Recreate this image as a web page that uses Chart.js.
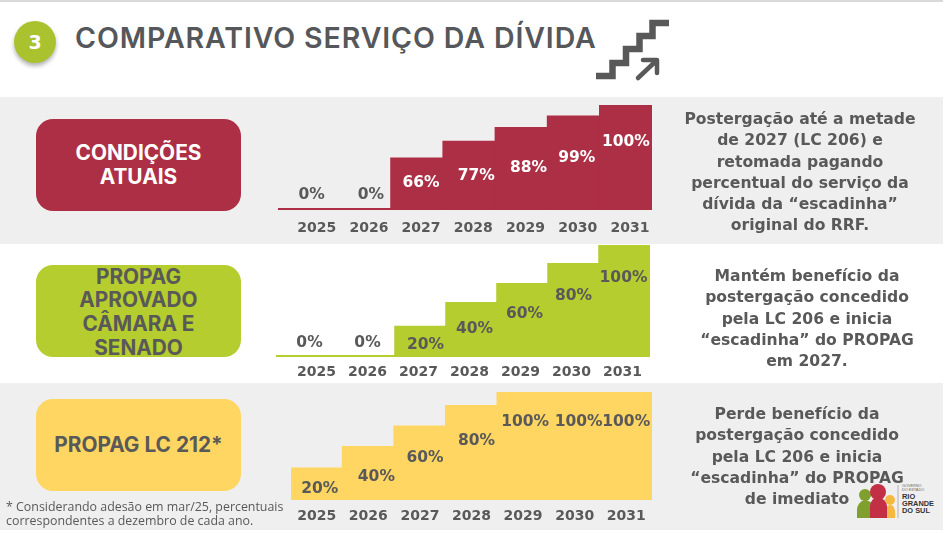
<!DOCTYPE html>
<html lang="pt-BR">
<head>
    <meta charset="UTF-8">
    <title>Comparativo Serviço da Dívida</title>
    <script src="https://cdn.jsdelivr.net/npm/chart.js"></script>
    <style>
        html, body { margin: 0; padding: 0; background: #fff; }
        #slide { position: relative; width: 945px; height: 533px; overflow: hidden; background: #fff;
                 font-family: Inter, "Open Sans", sans-serif; color: #595959; }
        .band { position: absolute; left: 0; width: 943px; background: #efefef; }
        .box { position: absolute; left: 36px; width: 205px; height: 92px; border-radius: 17px;
               display: flex; align-items: center; justify-content: center; text-align: center;
               font-weight: 700; font-size: 20.8px; line-height: 23.7px; white-space: nowrap; }
        .note { position: absolute; text-align: center; font-family: "DejaVu Sans", sans-serif;
                font-weight: 700; font-size: 15.6px; line-height: 21.3px; white-space: nowrap; }
        canvas { position: absolute; left: 270px; }
        #circle { position: absolute; left: 14px; top: 21px; width: 42px; height: 42px; border-radius: 50%;
                  background: #abc22f; color: #fff; font-family: "DejaVu Sans", sans-serif; font-weight: 700;
                  font-size: 19px; line-height: 42px; text-align: center; box-shadow: 0 3px 4px rgba(0,0,0,.3); }
        #title { position: absolute; left: 75px; top: 21px; font-size: 28.5px; letter-spacing: 0.9px; font-weight: 600;
                 line-height: 34px; white-space: nowrap; color: #55575a; }
        #foot { position: absolute; left: 6px; top: 500px; font-family: "Open Sans", sans-serif; font-size: 12.4px; line-height: 14px; white-space: nowrap; }
        svg { position: absolute; left: 0; top: 0; }
    </style>
</head>
<body>
<div id="slide">
    <div class="band" style="top:0;height:2px;background:#d9d9d9"></div>
    <div class="band" style="top:97px;height:147px"></div>
    <div class="band" style="top:383px;height:147px"></div>

    <div id="circle">3</div>
    <div id="title">COMPARATIVO SERVIÇO DA DÍVIDA</div>

    <svg width="945" height="533">
        <path d="M596 76 H612.5 V63 H626 V49 H639.5 V36 H652.5 V23 H669" fill="none" stroke="#595959" stroke-width="6.5"/>
        <path d="M638 78 L656 61 M643 60 H657 V73" fill="none" stroke="#595959" stroke-width="4.5" stroke-linecap="round" stroke-linejoin="round"/>
        <!-- logo -->
        <circle cx="865" cy="495" r="6" fill="#7f9f2f"/>
        <path d="M857 518 V509 Q858 502 865 500 Q873 501 875 509 V518 Z" fill="#7f9f2f"/>
        <circle cx="890" cy="500" r="5" fill="#f5b942"/>
        <path d="M884 518 V510 Q889 503 893 506 Q896 510 895 518 Z" fill="#f5b942"/>
        <circle cx="878" cy="492" r="8" fill="#c32f45"/>
        <path d="M870 518 V506 Q871 498 878 497 Q886 499 887 506 V518 Z" fill="#c32f45"/>
        <line x1="898" y1="485" x2="898" y2="518" stroke="#999" stroke-width="0.7"/>
        <text x="902" y="487" font-size="3.8" fill="#666" font-family="Liberation Sans">GOVERNO</text>
        <text x="902" y="491" font-size="3.8" fill="#666" font-family="Liberation Sans">DO ESTADO</text>
        <text x="902" y="498.5" font-size="7.4" font-weight="700" fill="#333" font-family="Liberation Sans">RIO</text>
        <text x="902" y="505.5" font-size="7.4" font-weight="700" fill="#333" font-family="Liberation Sans">GRANDE</text>
        <text x="902" y="512.5" font-size="7.4" font-weight="700" fill="#333" font-family="Liberation Sans">DO SUL</text>
    </svg>

    <div class="box" style="top:119px;background:#ad2f45;color:#fff"><div>CONDIÇÕES<br>ATUAIS</div></div>
    <div class="box" style="top:265px;background:#b5cd2e"><div style="margin-top:2px">PROPAG<br>APROVADO<br>CÂMARA E<br>SENADO</div></div>
    <div class="box" style="top:399px;background:#ffd662"><div>PROPAG LC 212*</div></div>

    <canvas id="chartAtuais" width="400" height="140" style="top:100px"></canvas>
    <canvas id="chartAprovado" width="400" height="150" style="top:240px"></canvas>
    <canvas id="chartLc212" width="400" height="145" style="top:385px"></canvas>

    <div class="note" style="left:660px;width:280px;top:109px">Postergação até a metade<br>de 2027 (LC 206) e<br>retomada pagando<br>percentual do serviço da<br>dívida da “escadinha”<br>original do RRF.</div>
    <div class="note" style="left:667px;width:280px;top:266px">Mantém benefício da<br>postergação concedido<br>pela LC 206 e inicia<br>“escadinha” do PROPAG<br>em 2027.</div>
    <div class="note" style="left:657px;width:280px;top:404px">Perde benefício da<br>postergação concedido<br>pela LC 206 e inicia<br>“escadinha” do PROPAG<br>de imediato</div>

    <div id="foot">* Considerando adesão em mar/25, percentuais<br>correspondentes a dezembro de cada ano.</div>
</div>

<script>
    const years = ['2025', '2026', '2027', '2028', '2029', '2030', '2031'];

    // the printed percentages are not to scale in the slide, so the height of
    // each step (top step = 100) is kept apart from its label
    const stepsAtuais = [0, 0, 50, 66, 79, 90, 100];
    const labelsAtuais = ['0%', '0%', '66%', '77%', '88%', '99%', '100%'];

    const stepsAprovado = [0, 0, 28, 49, 66, 84, 100];
    const labelsAprovado = ['0%', '0%', '20%', '40%', '60%', '80%', '100%'];

    const stepsLc212 = [30, 50, 69, 88, 100, 100, 100];
    const labelsLc212 = ['20%', '40%', '60%', '80%', '100%', '100%', '100%'];

    const GREY = '#595959';
    const FONT = '"DejaVu Sans", sans-serif';

    // percent labels sit by hand in the slide, no rule to them
    const stepLabels = {
        id: 'stepLabels',
        afterDatasetsDraw(chart, args, opts) {
            const ctx = chart.ctx;
            const bars = chart.getDatasetMeta(0).data;
            ctx.save();
            ctx.font = 'bold 15.5px ' + FONT;
            ctx.textAlign = 'center';
            ctx.textBaseline = 'middle';
            bars.forEach((bar, i) => {
                ctx.fillStyle = opts.colors[i];
                ctx.fillText(opts.texts[i], bar.x + opts.dx[i], bar.y + opts.dy[i]);
            });
            ctx.restore();
        }
    };

    // thin line under the two 0% years, runs a bit past the first bar
    const zeroLine = {
        id: 'zeroLine',
        beforeDatasetsDraw(chart, args, opts) {
            if (!opts.color) return;
            const y = chart.scales.y.getPixelForValue(0);
            const ctx = chart.ctx;
            ctx.save();
            ctx.strokeStyle = opts.color;
            ctx.lineWidth = 2;
            ctx.beginPath();
            ctx.moveTo(opts.from, y - 1);
            ctx.lineTo(chart.chartArea.left + 120, y - 1);
            ctx.stroke();
            ctx.restore();
        }
    };

    function stairChart(id, steps, texts, cfg) {
        return new Chart(document.getElementById(id), {
            type: 'bar',
            data: {
                labels: years,
                datasets: [{ data: steps, backgroundColor: cfg.color, borderWidth: 0,
                             barPercentage: 1.03, categoryPercentage: 1 }]
            },
            plugins: [zeroLine, stepLabels],
            options: {
                responsive: false,
                animation: false,
                layout: { padding: cfg.padding },
                plugins: {
                    legend: { display: false },
                    tooltip: { enabled: false },
                    zeroLine: { color: cfg.line, from: cfg.lineFrom },
                    stepLabels: { texts: texts, colors: cfg.textColors, dx: cfg.dx, dy: cfg.dy }
                },
                scales: {
                    y: { display: false, min: 0, max: 100 },
                    x: {
                        grid: { display: false, drawTicks: false },
                        border: { display: false },
                        afterFit: s => { s.height = cfg.axisHeight; },
                        ticks: {
                            color: GREY,
                            font: { family: FONT, weight: 'bold', size: 14 },
                            padding: cfg.tickPad,
                            labelOffset: cfg.labelOffset,
                            maxRotation: 0,
                            autoSkip: false
                        }
                    }
                }
            }
        });
    }

    stairChart('chartAtuais', stepsAtuais, labelsAtuais, {
        color: '#ad2f45', line: '#ad2f45', lineFrom: 8,
        padding: { left: 16.6, right: 18, top: 5, bottom: 0 },
        axisHeight: 30, tickPad: 10, labelOffset: 4,
        textColors: [GREY, GREY, '#fff', '#fff', '#fff', '#fff', '#fff'],
        dx: [-1, 6, 4, 7, 7, 3, 0],
        dy: [-15, -15, 25, 35, 41, 42, 37]
    });

    stairChart('chartAprovado', stepsAprovado, labelsAprovado, {
        color: '#b5cd2e', line: '#b5cd2e', lineFrom: 6,
        padding: { left: 23, right: 20, top: 5, bottom: 0 },
        axisHeight: 33, tickPad: 7, labelOffset: -2,
        textColors: years.map(() => GREY),
        dx: [-9, -2, 5, 3, 2, 0, -1],
        dy: [-14, -14, 19, 27, 31, 33, 33]
    });

    stairChart('chartLc212', stepsLc212, labelsLc212, {
        color: '#ffd662', line: null,
        padding: { left: 21, right: 18, top: 7, bottom: 0 },
        axisHeight: 30, tickPad: 8, labelOffset: 0,
        textColors: years.map(() => GREY),
        dx: [3, 8, 5, 5, 2, 4, 0],
        dy: [21, 31, 32, 36, 30, 30, 30]
    });
</script>
</body>
</html>
